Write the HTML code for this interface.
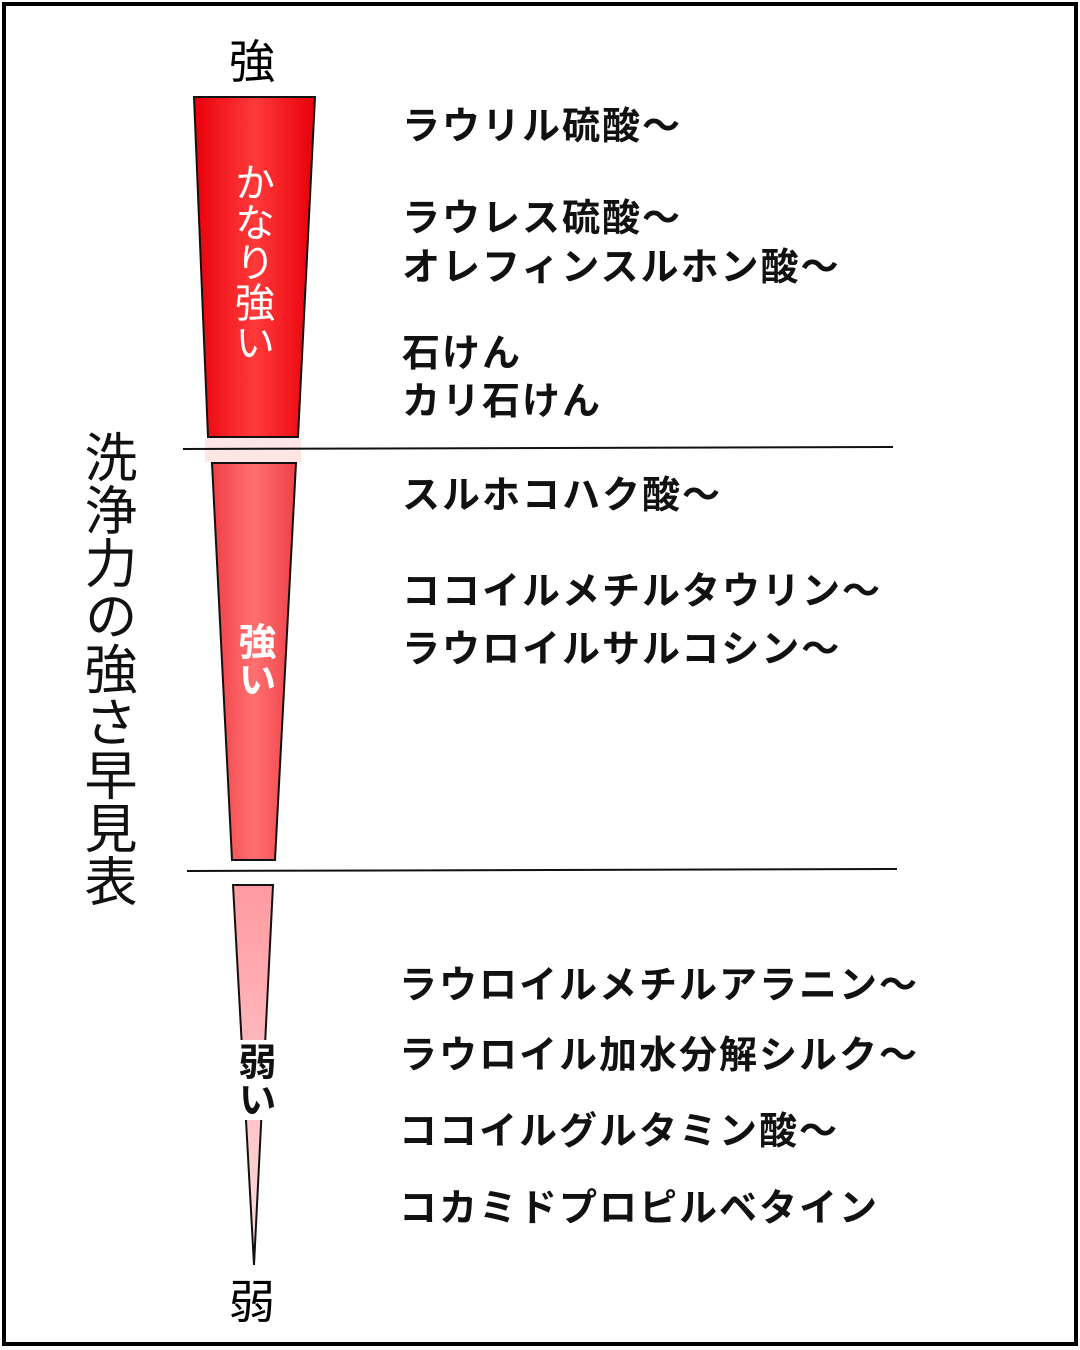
<!DOCTYPE html>
<html><head><meta charset="utf-8"><style>
body{margin:0;background:#fff;}
#c{position:relative;width:1080px;height:1350px;overflow:hidden;background:#fff;font-family:"Liberation Sans","Noto Sans CJK JP",sans-serif;}
.t{position:absolute;left:402px;font-size:38px;font-weight:bold;letter-spacing:2px;line-height:44px;white-space:nowrap;color:#111;}
.v{position:absolute;writing-mode:vertical-rl;white-space:nowrap;}
</style></head><body><div id="c">
<svg width="1080" height="1350" style="position:absolute;left:0;top:0">
<defs>
<linearGradient id="g1" x1="0" x2="1"><stop offset="0" stop-color="#e8000a"/><stop offset="0.5" stop-color="#ff3a3a"/><stop offset="1" stop-color="#e8000a"/></linearGradient>
<linearGradient id="g2" x1="0" x2="1"><stop offset="0" stop-color="#f04048"/><stop offset="0.5" stop-color="#ff7070"/><stop offset="1" stop-color="#f04048"/></linearGradient>
<linearGradient id="g3" x1="0" y1="0" x2="0" y2="1"><stop offset="0" stop-color="#ff9aa0"/><stop offset="1" stop-color="#ffe0e2"/></linearGradient>
</defs>
<rect x="4" y="4" width="1072" height="1340" fill="none" stroke="#000" stroke-width="4"/>
<polygon points="194,97 315,97 298,437 208,437" fill="url(#g1)" stroke="#111" stroke-width="2"/>
<rect x="205" y="438" width="96" height="24" fill="#ffe6e6"/>
<polygon points="212,463 296,463 275,860 232,860" fill="url(#g2)" stroke="#111" stroke-width="2"/>
<polygon points="233,885 273,885 254,1265" fill="url(#g3)" stroke="#111" stroke-width="2"/>
<rect x="228" y="1040" width="50" height="80" fill="#fff"/>
<line x1="183" y1="449" x2="893" y2="447" stroke="#111" stroke-width="2"/>
<line x1="187" y1="871" x2="897" y2="869" stroke="#111" stroke-width="2"/>
</svg>
<div style="position:absolute;left:229px;top:34px;font-size:46px;line-height:56px">強</div>
<div style="position:absolute;left:229px;top:1274px;font-size:46px;line-height:56px">弱</div>
<div class="v" style="left:78px;top:430px;font-size:53px;line-height:56px;color:#111">洗浄力の強さ早見表</div>
<div class="v" style="left:230px;top:162px;font-size:40px;line-height:42px;color:#fff">かなり強い</div>
<div class="v" style="left:232px;top:622px;font-size:38px;line-height:42px;color:#fff;font-weight:bold">強い</div>
<div class="v" style="left:232px;top:1042px;font-size:38px;line-height:42px;color:#111;font-weight:bold">弱い</div>
<div class="t" style="top:105px">ラウリル硫酸〜</div>
<div class="t" style="top:197px">ラウレス硫酸〜</div>
<div class="t" style="top:246px">オレフィンスルホン酸〜</div>
<div class="t" style="top:332px">石けん</div>
<div class="t" style="top:380px">カリ石けん</div>
<div class="t" style="top:474px">スルホコハク酸〜</div>
<div class="t" style="top:570px">ココイルメチルタウリン〜</div>
<div class="t" style="top:628px">ラウロイルサルコシン〜</div>
<div class="t" style="top:964px;left:399px">ラウロイルメチルアラニン〜</div>
<div class="t" style="top:1034px;left:399px">ラウロイル加水分解シルク〜</div>
<div class="t" style="top:1110px;left:399px">ココイルグルタミン酸〜</div>
<div class="t" style="top:1187px;left:399px">コカミドプロピルベタイン</div>
</div></body></html>
